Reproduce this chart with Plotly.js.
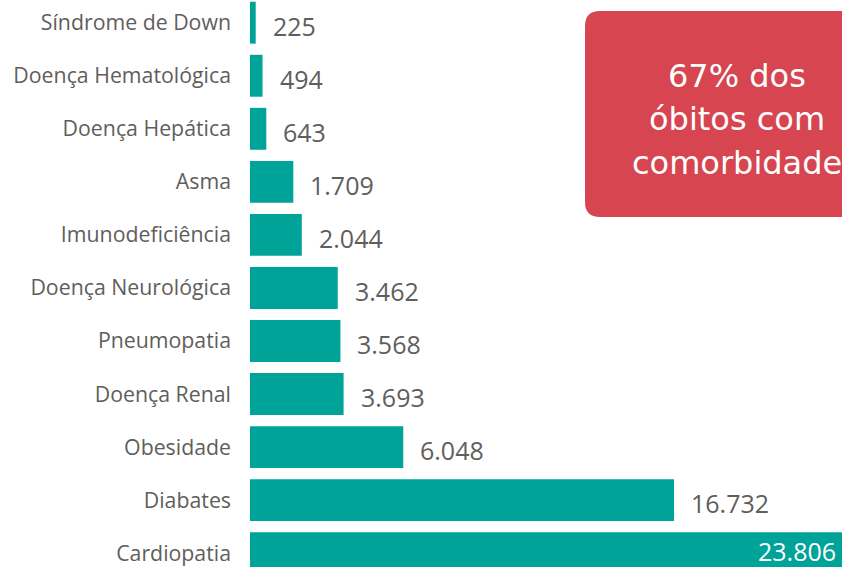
<!DOCTYPE html>
<html>
<head>
<meta charset="utf-8">
<script src="https://cdn.plot.ly/plotly-3.0.1.min.js"></script>
<style>html,body{margin:0;padding:0;background:#fff;overflow:hidden}#chart{width:842px;height:567px}</style>
</head>
<body>
<div id="chart"></div>
<script>
const categories = ["Síndrome de Down","Doença Hematológica","Doença Hepática","Asma","Imunodeficiência","Doença Neurológica","Pneumopatia","Doença Renal","Obesidade","Diabates","Cardiopatia"];
const obitos = [225,494,643,1709,2044,3462,3568,3693,6048,16732,23806];
const calloutLines = ["67% dos","óbitos com","comorbidade"];

const XMAX = 23360;
const barColor = "#00A398";
const labelColor = "#605E5C";

function fmt(v){ return String(v).replace(/\B(?=(\d{3})+(?!\d))/g, "."); }

const annotations = [];
categories.forEach((c,i)=>{
  const v = obitos[i];
  const inside = v > XMAX*0.95;
  annotations.push({
    x: inside ? Math.min(v, XMAX) : v, y: c, xref:"x", yref:"y",
    text: fmt(v), showarrow:false,
    xanchor: inside ? "right" : "left",
    xshift: inside ? -4 : 15, yshift: inside ? 2.5 : -3,
    font:{family:"Open Sans, sans-serif", size:25, color: inside ? "#ffffff" : labelColor}
  });
});
// callout text
const lineY = [76, 119, 163];
calloutLines.forEach((t,i)=>{
  annotations.push({
    x:(737-250)/592, y:1-lineY[i]/567, xref:"paper", yref:"paper",
    text:t, showarrow:false, xanchor:"center", yanchor:"middle",
    font:{family:"DejaVu Sans, sans-serif", size:32, color:"#ffffff"}
  });
});

// rounded rectangle in paper coords
function px2x(p){return (p-250)/592;}
function py2y(p){return 1-p/567;}
const L=585,T=11,R=900,B=217,r=15;
const path = `M ${px2x(L+r)},${py2y(T)} L ${px2x(R-r)},${py2y(T)} Q ${px2x(R)},${py2y(T)} ${px2x(R)},${py2y(T+r)} L ${px2x(R)},${py2y(B-r)} Q ${px2x(R)},${py2y(B)} ${px2x(R-r)},${py2y(B)} L ${px2x(L+r)},${py2y(B)} Q ${px2x(L)},${py2y(B)} ${px2x(L)},${py2y(B-r)} L ${px2x(L)},${py2y(T+r)} Q ${px2x(L)},${py2y(T)} ${px2x(L+r)},${py2y(T)} Z`;

const trace = {
  type:"bar", orientation:"h",
  x: obitos, y: categories,
  marker:{color: barColor},
  width: 0.79,
  hoverinfo:"none"
};

const layout = {
  width:842, height:567,
  margin:{l:250, r:0, t:0, b:0, pad:0},
  paper_bgcolor:"#ffffff", plot_bgcolor:"#ffffff",
  showlegend:false,
  xaxis:{range:[0,XMAX], visible:false, fixedrange:true},
  yaxis:{
    type:"category", range:[10.26,-0.428], autorange:false,
    showgrid:false, zeroline:false, showline:false, ticks:"",
    ticklabelstandoff: 18,
    tickfont:{family:"Open Sans, sans-serif", size:21.3, color:labelColor}
  },
  shapes:[{type:"path", xref:"paper", yref:"paper", path:path, fillcolor:"#D64550", line:{width:0}, layer:"above"}],
  annotations: annotations
};

Plotly.newPlot("chart",[trace],layout,{displayModeBar:false, staticPlot:true});
</script>
</body>
</html>
